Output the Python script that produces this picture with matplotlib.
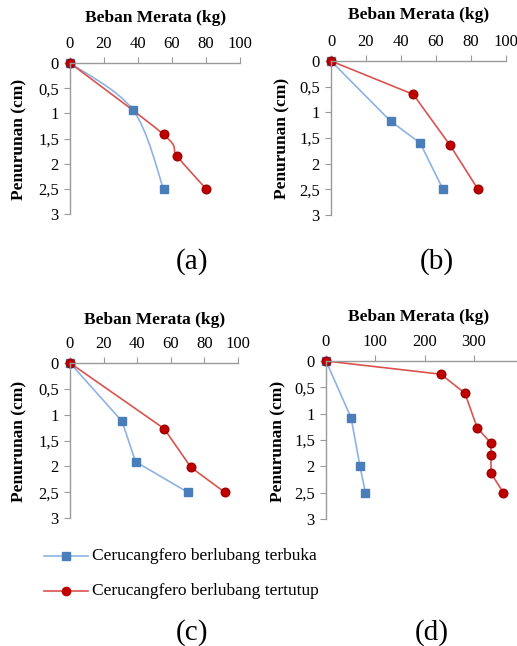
import numpy as np
import matplotlib.pyplot as plt
from matplotlib.path import Path
from matplotlib.patches import PathPatch

plt.rcParams['font.family'] = ['Liberation Serif', 'DejaVu Serif']

# data: beban (kg) vs penurunan (cm)
a_open_x = [0, 37, 55]
a_open_y = [0, 0.93, 2.5]
a_closed_x = [0, 55, 63, 80]
a_closed_y = [0, 1.42, 1.85, 2.5]

b_open_x = [0, 34, 51, 64]
b_open_y = [0, 1.17, 1.6, 2.5]
b_closed_x = [0, 47, 68, 84]
b_closed_y = [0, 0.65, 1.64, 2.5]

c_open_x = [0, 31, 39, 70]
c_open_y = [0, 1.13, 1.91, 2.5]
c_closed_x = [0, 56, 72, 92]
c_closed_y = [0, 1.27, 2.02, 2.5]

d_open_x = [0, 51, 69, 80]
d_open_y = [0, 1.08, 2.0, 2.5]
d_closed_x = [0, 233, 282, 307, 335, 335, 335, 360]
d_closed_y = [0, 0.25, 0.61, 1.27, 1.56, 1.78, 2.13, 2.5]

y_ticks = [0, 0.5, 1, 1.5, 2, 2.5, 3]
y_labels = ['0', '0,5', '1', '1,5', '2', '2,5', '3']
labels = ['Cerucangfero berlubang terbuka', 'Cerucangfero berlubang tertutup']

W, H = 517, 646
BLUE_M, BLUE_L = '#4A7EBB', '#8DB3E2'
RED_M, RED_L = '#C00000', '#D9534F'
GREY = '#9A9A9A'

fig = plt.figure(figsize=(W / 100, H / 100), dpi=100)


def px_axes(left, right, top, bottom):
    return fig.add_axes([left / W, 1 - bottom / H, (right - left) / W, (bottom - top) / H])


def smooth(ax, xs, ys, color):
    # excel style smoothed line, drawn as bezier segments through the points
    p = np.column_stack([xs, ys]).astype(float)
    verts = [p[0]]
    codes = [Path.MOVETO]
    n = len(p)
    for i in range(n - 1):
        p0 = p[i - 1] if i > 0 else p[i]
        p3 = p[i + 2] if i + 2 < n else p[i + 1]
        c1 = p[i] + (p[i + 1] - p0) / 6
        c2 = p[i + 1] - (p3 - p[i]) / 6
        verts += [c1, c2, p[i + 1]]
        codes += [Path.CURVE4] * 3
    ax.add_patch(PathPatch(Path(verts, codes), fill=False, edgecolor=color, lw=1.2))


def panel(box, xmax, xticks, ox, oy, cx, cy, curved=False):
    ax = px_axes(*box)
    if curved:
        smooth(ax, ox, oy, BLUE_L)
        smooth(ax, cx, cy, RED_L)
        ax.plot(ox, oy, ls='none', marker='s', ms=5.5, color=BLUE_M)
        ax.plot(cx, cy, ls='none', marker='o', ms=6.2, mfc=RED_M, mec='#A00000')
    else:
        ax.plot(ox, oy, color=BLUE_L, lw=1.2, marker='s', ms=5.5, mfc=BLUE_M, mec=BLUE_M)
        ax.plot(cx, cy, color=RED_L, lw=1.2, marker='o', ms=6.2, mfc=RED_M, mec='#A00000')
    ax.set_xlim(0, xmax)
    ax.set_ylim(3, 0)
    ax.set_xticks(xticks)
    ax.set_yticks(y_ticks)
    ax.set_yticklabels(y_labels)
    ax.xaxis.tick_top()
    for s in ['right', 'bottom']:
        ax.spines[s].set_visible(False)
    for s in ['top', 'left']:
        ax.spines[s].set_color(GREY)
        ax.spines[s].set_linewidth(1.0)
    ax.tick_params(axis='both', colors=GREY, labelcolor='black', labelsize=12, length=4)
    ax.tick_params(axis='x', pad=4)
    ax.tick_params(axis='y', pad=4)
    for m in ax.lines:
        m.set_clip_on(False)
    return ax


panel((70, 240, 63, 214), 100, [0, 20, 40, 60, 80, 100], a_open_x, a_open_y, a_closed_x, a_closed_y, curved=True)
panel((331, 506, 61, 215), 100, [0, 20, 40, 60, 80, 100], b_open_x, b_open_y, b_closed_x, b_closed_y)
panel((70, 238, 363, 518), 100, [0, 20, 40, 60, 80, 100], c_open_x, c_open_y, c_closed_x, c_closed_y)
# panel (d) runs past the right edge of the picture, so 400 is not shown
panel((326, 523, 361, 519), 400, [0, 100, 200, 300], d_open_x, d_open_y, d_closed_x, d_closed_y)

# titles, y labels and panel letters
for x, y in [(156, 18), (419, 15), (155, 320), (419, 317)]:
    fig.text(x / W, 1 - y / H, 'Beban Merata (kg)', ha='center', va='center',
             fontsize=12.5, fontweight='bold')
for x, y in [(19, 139), (282, 138), (19, 441), (278, 441)]:
    fig.text(x / W, 1 - y / H, 'Penurunan (cm)', ha='center', va='center',
             fontsize=12.5, fontweight='bold', rotation=90)
for x, y, t in [(192, 262, '(a)'), (437, 262, '(b)'), (192, 633, '(c)'), (432, 633, '(d)')]:
    fig.text(x / W, 1 - y / H, t, ha='center', va='center', fontsize=21)

# legend drawn by hand below panel (c)
for y, lc, mc, mk, lab in [(556, BLUE_L, BLUE_M, 's', labels[0]), (591, RED_L, RED_M, 'o', labels[1])]:
    fig.lines.append(plt.Line2D([44 / W, 88 / W], [1 - y / H] * 2, color=lc, lw=1.2,
                                transform=fig.transFigure))
    fig.lines.append(plt.Line2D([66 / W], [1 - y / H], color=mc, marker=mk, ms=6,
                                transform=fig.transFigure))
    fig.text(92 / W, 1 - y / H, lab, ha='left', va='center', fontsize=12.5)

fig.savefig('out.png', dpi=100)
